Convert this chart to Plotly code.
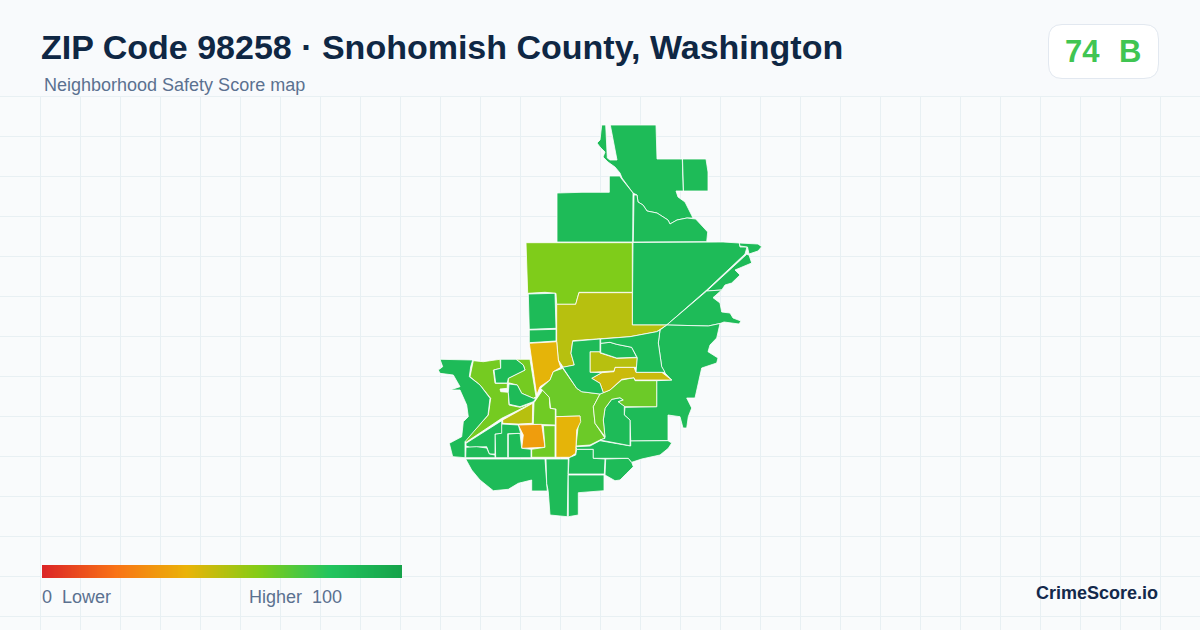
import plotly.graph_objects as go
from plotly.colors import sample_colorscale

# tract outlines, in map units (x right, y down)
north_top = [(610.3,125),(656,125),(657,159),(682.3,159),(683.3,191),(676,191),(678,197),(685,202),(688,208),(693,218),(687,218),(677,220),(670,224),(668,220),(657,213),(647,211),(643,205),(638,202),(637,195),(633,193),(622,178),(620,173),(615,167),(608,162),(603,157),(605,152),(600,147),(597,143),(600,140),(601.7,125),(605.7,125),(607.3,158),(610,160),(617,160)]
north_rect = [(682.5,159),(706,159),(708,172),(708,191),(683.5,191)]
north_west = [(609.3,176),(620,176),(621,178),(633,193),(632.7,242),(557,242),(557,193),(582,192.3),(609.3,192.3)]
north_mid = [(634,195),(637,195),(638,202),(643,205),(647,211),(657,213),(668,220),(670,224),(677,220),(687,218),(695.7,219),(707.7,232),(706.7,241.7),(670,241.7),(633.3,242)]
east_big = [(633,242.5),(670,242),(723,242),(739.3,243),(740,247),(747,247),(745,254),(706.7,290),(666.7,325),(632.3,325)]
east_tip = [(739.3,243),(758,244),(761.7,246.7),(758,251),(749,254),(747.5,247),(740,246)]
east_strip = [(746.7,254.3),(749,255),(751.7,263),(740,267.7),(735,270),(740,275),(735,280),(731.7,283),(725,285),(721.7,290),(706.7,291)]
east_lobe = [(706.7,291),(721.7,290),(713,297.7),(720,303),(721.7,312),(730,313),(733,318),(741,321),(739,324),(724,322),(720,323.5),(708.3,326),(666.7,325)]
east_mid = [(666.7,325),(708.3,326),(720,323.5),(716.7,338),(710,345),(708,351.7),(718,358),(716.7,363),(701.7,368),(695,398),(686.7,398),(691.7,408),(688.3,416.7),(686.7,428),(683,428),(680,416.7),(668,415),(668,440.5),(630.7,441),(630,420),(624.3,415),(625,407.3),(656.7,406.7),(656.7,380.7),(671.7,380),(665,373),(661.7,366.7),(658.3,343),(660,330)]
lime_north = [(526,242.7),(632.3,242.7),(632.3,292.3),(579,292.3),(575.7,304.3),(556.7,304.3),(556,293.3),(545,292.3),(527.7,293.3),(526.7,248)]
olive_big = [(556.7,304.3),(575.7,304.3),(579,292.7),(632.3,292.7),(632.3,325),(666.7,325),(656.7,331.7),(630,336.7),(596.7,339),(572.7,340.7),(571,353.3),(574.3,365),(563.3,367.3),(558.3,360),(556.7,341.7)]
west_rect = [(528.3,294),(555,293.3),(556,328.3),(529.3,329.3)]
west_rect_low = [(529.3,330),(556,329.3),(556,341),(529.3,342.7)]
yellow_west = [(529.3,343.3),(556.7,341.7),(558.3,360),(560.7,367.3),(553.3,371.7),(550,380),(540,386.7),(536.7,395)]
lime_west = [(473.3,360.7),(483.3,361.7),(500,359.3),(500.7,368.3),(493.3,370),(495,383.3),(507.3,383.3),(507.3,388.3),(500,389),(500.7,391.7),(508.3,392.3),(509,405),(520,407.3),(533.3,402.7),(501.7,418.3),(466,442.3),(465,441),(488.3,415),(490.7,398.3),(480,385),(470,376.7),(471.7,366.7)]
lime_west_in = [(516,359.3),(530,359.3),(536,396.7),(533.3,398.3),(521.7,393.3),(517.3,385),(508.3,382.7),(508.3,378.3),(525,370),(523.3,365)]
green_west_a = [(500.7,359.3),(516,359.3),(523.3,365),(525,370),(508.3,378.3),(507.3,383),(495.7,383),(494,370),(500.7,368.3)]
green_west_b = [(509,384),(517.3,385),(521.7,393.3),(533.3,398.3),(536,398.3),(533.3,401.7),(520,406.7),(509.3,404.3),(508.3,392.3)]
far_west = [(440,359.3),(472.7,360),(470.7,366.7),(469.3,376.7),(480,385),(490,398.3),(488,415),(465,441.7),(465,457.7),(452.7,456.7),(449.3,443.3),(461.7,436.7),(463.3,421.7),(468.3,416.7),(466.7,405),(460,390),(450,390),(460,386.7),(453.3,375),(440,373.3),(438.3,370),(442.7,366.7)]
olive_wedge = [(532.7,403.3),(532.3,423.3),(518.3,424),(510,423.3),(502.7,423.3),(502.7,420)]
lime_small = [(534,402.7),(538.3,396.7),(542.7,390),(549.3,397.3),(550,408.3),(555.3,409),(555.3,425),(533.3,424.3)]
lime_center = [(562.7,368.3),(576.7,388.3),(581.7,391.7),(600,394),(593.3,406.7),(595,423.3),(605,438.3),(600,440),(590,445),(576,446),(578.3,425),(580,416),(556,416.7),(556,409),(550.7,408.3),(549.3,397.3),(540.7,388.3),(550,380),(553.3,371.7)]
yellow_tall = [(556,416.7),(580,416),(580.7,421.7),(576.7,430),(575.7,453.3),(570,457.3),(556,457.3)]
orange_block = [(518.3,425),(541.7,424.3),(545,447.3),(521.7,448.3),(523.3,435)]
lime_low = [(543.3,425.7),(555,425.7),(555,457.3),(531.7,457.3),(531.7,449.3),(545,447.3)]
green_low_a = [(508.3,434),(520,433.3),(521.7,448.3),(531,449.3),(531,457.7),(508.3,457.7)]
green_low_b = [(495,434),(501,433.3),(501.7,424),(518.3,425),(520.7,433.3),(507.7,433.7),(507.7,457.7),(495.7,457.7)]
green_low_c = [(466,443.3),(501.7,420.7),(501.7,433.3),(495,434),(495,454),(489.3,454),(486.7,446.7),(476.7,446.7),(470,447.3),(466,446)]
green_low_d = [(466,447.3),(476.7,446.7),(486.7,448),(489.3,454),(495,455),(495,457.7),(465.7,457.7)]
south_west = [(465.7,459),(545,459),(546.7,483.3),(547.3,491),(531.7,491),(531.7,480),(518.3,483.3),(508.3,489.3),(493.3,490.7),(480,480),(471.7,470)]
south_tall = [(546,459),(568.3,459),(567.3,516.7),(550,515),(548.3,491.7),(546.7,483.3)]
south_right = [(568.3,475),(604,475),(604,490.7),(578.3,492.7),(578.3,515),(568.3,516.7)]
south_upper = [(569,457.7),(575.7,455),(576.7,449.3),(593.3,449.3),(593.3,458.3),(605,459),(604.3,474),(568.3,474)]
south_east = [(605.7,459),(628.3,458.3),(631.7,462.3),(633.3,466.7),(626.7,473.3),(620,480),(615,480.7),(605,475)]
east_band = [(576,446.7),(590,446),(600,440.7),(630.7,446),(630.7,441),(668,440.7),(671.7,443),(668.3,448.3),(660,455),(641.7,459),(631.7,462.3),(628.3,458.3),(593.3,458.3),(593.3,449.3),(576.7,449.3)]
green_inner = [(605,438.3),(603.3,420),(605,408.3),(611.7,399.3),(620,397.7),(623.3,400),(618.3,401.7),(624.3,406),(624.3,415),(630,420),(630,445.7),(600,440)]
lime_right = [(600,394),(610,390),(621.7,380),(634,377.7),(635,380.7),(656.7,380.7),(656.7,406.7),(625,406.7),(618.3,401.7),(623.3,400),(620,397.7),(611.7,399.3),(605,408.3),(603.3,420),(605,436.7),(595,423.3),(593.3,406.7)]
olive_band = [(591.7,378.3),(601.7,372.7),(614,371.7),(615,367.3),(634,367.3),(636,372.3),(661.7,372.3),(671.7,380),(635,380),(634,377.7),(621.7,379.3),(610,390),(603.3,392.7),(600,383.3)]
olive_upper = [(590,351.7),(600,351.7),(600,353),(616.7,358.3),(637.3,357.7),(636.7,367.3),(615,367.3),(614,371),(601.7,371.7),(590,372.3)]
green_pocket = [(600.7,343.3),(610,342.3),(616.7,344.3),(631.7,347.3),(636.7,357.3),(616.7,358),(600.7,352.7)]
ring_west = [(572.7,341.3),(600,339),(600,351.7),(590,351.7),(590,372.3),(601.7,372.7),(591.7,378.3),(600,383.3),(603.3,392.7),(600,394),(581.7,391.7),(576.7,388.3),(562.7,367.3),(574.3,365),(571,353.3)]
ring_east = [(600.7,339),(630,336.7),(656.7,331.7),(660,330),(658.3,343),(661.7,366.7),(665,372.3),(636,372.3),(637.3,357.7),(631.7,347.3),(616.7,344.3),(610,342.3),(600.7,343.3)]

tract_outlines = [north_top, north_rect, north_west, north_mid, east_big, east_tip, east_strip, east_lobe, east_mid,
                  lime_north, olive_big, west_rect, west_rect_low, yellow_west, lime_west, lime_west_in, green_west_a, green_west_b,
                  far_west, olive_wedge, lime_small, lime_center, yellow_tall, orange_block, lime_low, green_low_a, green_low_b,
                  green_low_c, green_low_d, south_west, south_tall, south_right, south_upper, south_east, east_band, green_inner,
                  lime_right, olive_band, olive_upper, green_pocket, ring_west, ring_east]
tract_scores = [86, 86, 86, 86, 86, 86, 86, 86, 86,
                61, 50, 86, 86, 41, 63, 63, 86, 86,
                86, 50, 64, 65, 41, 33, 64, 86, 86,
                86, 86, 86, 86, 86, 86, 86, 86, 86,
                65, 46, 50, 86, 86, 86]

score_colors = [[0, "#dc2626"], [0.2, "#f97316"], [0.4, "#eab308"], [0.6, "#84cc16"], [0.8, "#22c55e"], [1, "#16a34a"]]
legend_values = list(range(0, 101))

fig = go.Figure()

for outline, score in zip(tract_outlines, tract_scores):
    fig.add_trace(go.Scatter(
        x=[p[0] for p in outline] + [outline[0][0]],
        y=[p[1] for p in outline] + [outline[0][1]],
        mode="lines", fill="toself",
        fillcolor=sample_colorscale(score_colors, score / 100)[0],
        line=dict(color="#ffffff", width=0.8),
        hoverinfo="skip", showlegend=False,
    ))

# legend bar, cells are centred so the ends get half a cell more
fig.add_trace(go.Heatmap(
    z=[legend_values, legend_values], x=[43.78 + 3.564 * v for v in legend_values], y=[568.25, 574.75],
    colorscale=score_colors, zmin=0, zmax=100, zsmooth="best",
    showscale=False, hoverinfo="skip",
))

def label(x, y, text, size, color, bold=False, anchor="left"):
    fig.add_annotation(x=x, y=y, text=text, showarrow=False, xanchor=anchor, yanchor="middle", borderpad=0, borderwidth=0,
                       font=dict(family="Liberation Sans", size=size, color=color, weight="bold" if bold else "normal"))

label(41, 47, "ZIP Code 98258 · Snohomish County, Washington", 34, "#0f2744", bold=True)
label(44, 85, "Neighborhood Safety Score map", 18, "#5b7190")
label(1065, 51, "74", 31, "#40c552", bold=True)
label(1119, 51, "B", 31, "#40c552", bold=True)
label(42, 597, "0  Lower", 18, "#5b7190")
label(249, 597, "Higher  100", 18, "#5b7190")
label(1158, 593, "CrimeScore.io", 18, "#13294b", bold=True, anchor="right")

# header covers the grid, badge sits on top
fig.add_shape(type="rect", x0=0, x1=1200, y0=0, y1=96, fillcolor="#f8fafc", line_width=0, layer="between")
fig.add_shape(type="path", path="M 1062 24.5 L 1144 24.5 Q 1158.5 24.5 1158.5 39 L 1158.5 64 Q 1158.5 78.5 1144 78.5 L 1062 78.5 Q 1048.5 78.5 1048.5 64 L 1048.5 39 Q 1048.5 24.5 1062 24.5 Z",
              fillcolor="#ffffff", line=dict(color="#e2e8f0", width=1), layer="between")

fig.update_xaxes(range=[0, 1200], tick0=0.5, dtick=40, showgrid=True, gridcolor="#e8f0f3", gridwidth=1,
                 zeroline=False, showticklabels=False, ticks="", showline=False, fixedrange=True)
fig.update_yaxes(range=[630, 0], tick0=96.5, dtick=40, showgrid=True, gridcolor="#e8f0f3", gridwidth=1,
                 zeroline=False, showticklabels=False, ticks="", showline=False, fixedrange=True)
fig.update_layout(width=1200, height=630, margin=dict(l=0, r=0, t=0, b=0),
                  plot_bgcolor="#f9fbfc", paper_bgcolor="#f8fafc", showlegend=False)

fig.write_html("out.html", config={"displayModeBar": False},
               post_script="document.body.style.margin='0';document.body.style.overflow='hidden';")
